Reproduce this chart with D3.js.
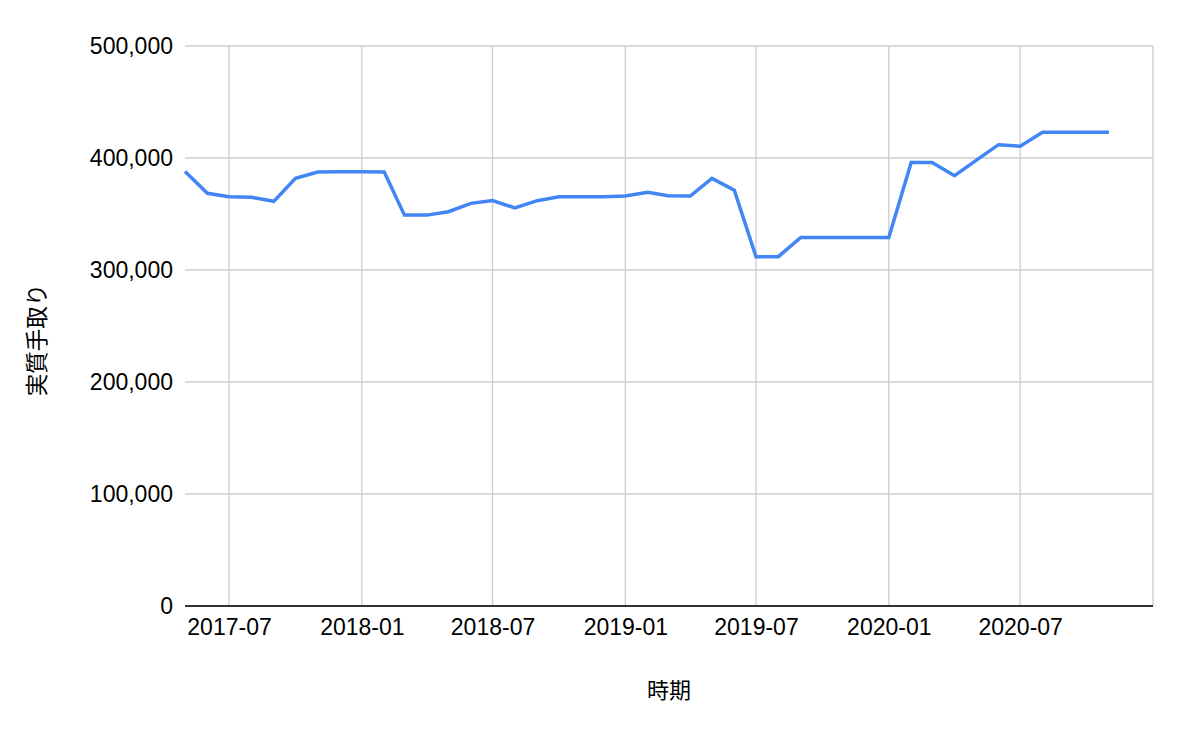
<!DOCTYPE html>
<html>
<head>
<meta charset="utf-8">
<script src="https://cdn.jsdelivr.net/npm/d3@7"></script>
<style>
  html, body { margin: 0; padding: 0; background: #fff; }
  svg { display: block; }
</style>
</head>
<body>
<svg id="chart" width="1178" height="732"></svg>
<script>
// ---- data ----
const months = [
  "2017-05","2017-06","2017-07","2017-08","2017-09","2017-10","2017-11","2017-12",
  "2018-01","2018-02","2018-03","2018-04","2018-05","2018-06","2018-07","2018-08",
  "2018-09","2018-10","2018-11","2018-12","2019-01","2019-02","2019-03","2019-04",
  "2019-05","2019-06","2019-07","2019-08","2019-09","2019-10","2019-11","2019-12",
  "2020-01","2020-02","2020-03","2020-04","2020-05","2020-06","2020-07","2020-08",
  "2020-09","2020-10","2020-11"
];
const takeHome = [
  388000, 368500, 365400, 364900, 361300, 381900, 387500, 387700,
  387800, 387500, 349000, 349000, 352000, 359500, 362000, 355400,
  361900, 365400, 365500, 365500, 366000, 369300, 366300, 366000,
  381800, 371300, 311900, 311900, 329000, 329000, 329000, 329000,
  329000, 396000, 396000, 384200, 397900, 411900, 410500, 423000,
  423000, 423000, 423000
];
const xTickMonths = ["2017-07","2018-01","2018-07","2019-01","2019-07","2020-01","2020-07","2021-01"];
const xTickLabels = ["2017-07","2018-01","2018-07","2019-01","2019-07","2020-01","2020-07",""];
const yTicks = [0, 100000, 200000, 300000, 400000, 500000];
const xDomain = ["2017-05", "2021-01"];
const xTitle = "時期";
const yTitle = "実質手取り";

// ---- drawing ----
(function () {
const parse = d3.timeParse("%Y-%m");
const svg = d3.select("#chart");
const mL = 185, mR = 1153, mT = 46, mB = 606;
const font = "'Liberation Sans', Arial, Helvetica, sans-serif";
const cjk = "'Noto Sans CJK JP', 'Noto Sans CJK SC', sans-serif";

const x = d3.scaleTime().domain(xDomain.map(parse)).range([mL, mR]);
const y = d3.scaleLinear().domain([0, 500000]).range([mB, mT]);

// horizontal gridlines
svg.append("g").selectAll("line").data(yTicks.filter(v => v > 0)).join("line")
  .attr("x1", mL).attr("x2", mR)
  .attr("y1", d => y(d)).attr("y2", d => y(d))
  .attr("stroke", "#cccccc").attr("stroke-width", 1.3);

// vertical gridlines
svg.append("g").selectAll("line").data(xTickMonths).join("line")
  .attr("x1", d => x(parse(d))).attr("x2", d => x(parse(d)))
  .attr("y1", mT).attr("y2", mB)
  .attr("stroke", "#cccccc").attr("stroke-width", 1.3);

// y axis labels
const yAxis = d3.axisLeft(y).tickValues(yTicks).tickSize(0).tickPadding(12)
  .tickFormat(d3.format(","));
const gy = svg.append("g").attr("transform", `translate(${mL},0)`).call(yAxis);
gy.select(".domain").remove();
gy.selectAll("text").attr("font-family", font).attr("font-size", 23).attr("fill", "#000");

// x axis labels
const labelMap = new Map(xTickMonths.map((m, i) => [+parse(m), xTickLabels[i]]));
const xAxis = d3.axisBottom(x).tickValues(xTickMonths.map(parse)).tickSize(0).tickPadding(13)
  .tickFormat(d => labelMap.get(+d));
const gx = svg.append("g").attr("transform", `translate(0,${mB})`).call(xAxis);
gx.select(".domain").remove();
gx.selectAll("text").attr("font-family", font).attr("font-size", 23).attr("fill", "#000");

// baseline
svg.append("line").attr("x1", mL).attr("x2", mR)
  .attr("y1", y(0)).attr("y2", y(0))
  .attr("stroke", "#333333").attr("stroke-width", 1.8);

// line
const line = d3.line().x((d, i) => x(parse(months[i]))).y(d => y(d));
svg.append("path").datum(takeHome)
  .attr("d", line)
  .attr("fill", "none").attr("stroke", "#4285f4")
  .attr("stroke-width", 3.5).attr("stroke-linejoin", "miter").attr("stroke-miterlimit", 2);

// axis titles
svg.append("text").attr("x", (mL + mR) / 2).attr("y", 698)
  .attr("text-anchor", "middle").attr("font-family", cjk).attr("font-size", 22)
  .attr("fill", "#000").text(xTitle);
svg.append("text").attr("transform", "translate(45,340) rotate(-90)")
  .attr("text-anchor", "middle").attr("font-family", cjk).attr("font-size", 22.5)
  .attr("fill", "#000").text(yTitle);
})();
</script>
</body>
</html>
